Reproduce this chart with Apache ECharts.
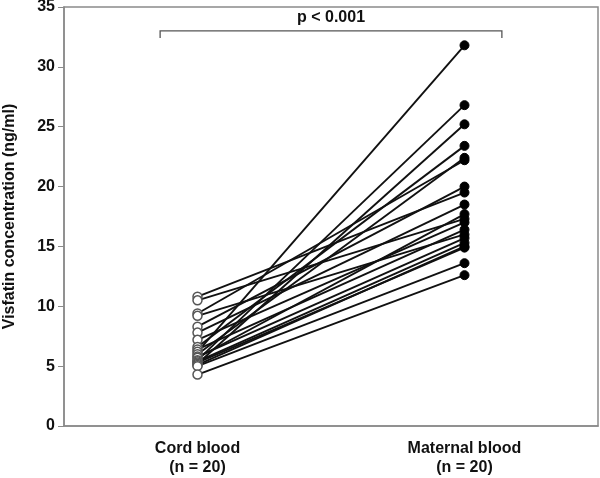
<!DOCTYPE html>
<html><head><meta charset="utf-8">
<script src="https://cdn.jsdelivr.net/npm/echarts@6/dist/echarts.min.js"></script>
<style>html,body{margin:0;padding:0;background:#fff}#c{width:600px;height:478px}</style>
</head><body><div id="c"></div>
<script>
var categories = ['Cord blood\n(n = 20)', 'Maternal blood\n(n = 20)'];
var cordBlood = [10.8, 10.5, 9.4, 9.2, 8.3, 7.8, 7.2, 6.6, 6.4, 6.2, 6.0, 5.8, 5.7, 5.5, 5.4, 5.3, 5.2, 5.1, 5.0, 4.3];
var maternalBlood = [19.5, 17.3, 22.2, 16.0, 20.0, 18.5, 17.0, 23.4, 16.4, 31.8, 22.4, 15.7, 17.7, 26.8, 15.3, 14.9, 25.2, 15.0, 13.6, 12.6];
var yTicks = [0, 5, 10, 15, 20, 25, 30, 35];
var annotationText = 'p < 0.001';
var bracketValue = 33;

var FONT = '"Liberation Sans", Arial, sans-serif';
var chart = echarts.init(document.getElementById('c'));
var series = cordBlood.map(function (c, i) {
  return {
    type: 'line',
    data: [
      { value: c, itemStyle: { color: '#fff', borderColor: '#555', borderWidth: 1.5 } },
      { value: maternalBlood[i], itemStyle: { color: '#000', borderColor: '#000', borderWidth: 1 } }
    ],
    symbol: 'circle',
    symbolSize: 9,
    lineStyle: { color: '#111', width: 1.9 },
    animation: false,
    z: 2
  };
});

chart.setOption({
  animation: false,
  grid: { left: 64, right: 2, top: 7, bottom: 52, containLabel: false, outerBoundsMode: 'none',
    show: true, borderColor: '#8a8a8a', borderWidth: 1.5 },
  xAxis: {
    type: 'category',
    data: categories,
    boundaryGap: true,
    axisLine: { lineStyle: { color: '#8a8a8a', width: 1.5 } },
    axisTick: { alignWithLabel: true, length: 5, lineStyle: { color: '#8a8a8a' }, interval: 0 },
    axisLabel: { color: '#111', fontFamily: FONT, fontWeight: 'bold', fontSize: 16, lineHeight: 19, margin: 13 }
  },
  yAxis: {
    type: 'value',
    min: 0, max: 35, interval: 5,
    splitLine: { show: false },
    axisLine: { show: true, lineStyle: { color: '#8a8a8a', width: 1.5 } },
    axisTick: { show: true, length: 6, lineStyle: { color: '#8a8a8a' } },
    axisLabel: { color: '#111', fontFamily: FONT, fontWeight: 'bold', fontSize: 16, margin: 9,
      formatter: function (v) { return yTicks.indexOf(v) >= 0 ? String(v) : ''; } },
    name: 'Visfatin concentration (ng/ml)',
    nameLocation: 'middle',
    nameGap: 46,
    nameTextStyle: { color: '#111', fontFamily: FONT, fontWeight: 'bold', fontSize: 16 }
  },
  series: series
});

var p0 = chart.convertToPixel({ gridIndex: 0 }, [0, bracketValue]);
var p1 = chart.convertToPixel({ gridIndex: 0 }, [1, bracketValue]);
var band = p1[0] - p0[0];
var xa = p0[0] - band * 0.14, xb = p1[0] + band * 0.14, yb = p0[1];
chart.setOption({
  graphic: [
    { type: 'polyline', shape: { points: [[xa, yb + 7], [xa, yb], [xb, yb], [xb, yb + 7]] },
      style: { stroke: '#555', lineWidth: 1.3, fill: null }, z: 10 },
    { type: 'text', x: (xa + xb) / 2, y: yb - 5,
      style: { text: annotationText, fill: '#111', font: 'bold 16px ' + FONT, textAlign: 'center', textVerticalAlign: 'bottom' }, z: 10 }
  ]
});
</script></body></html>
